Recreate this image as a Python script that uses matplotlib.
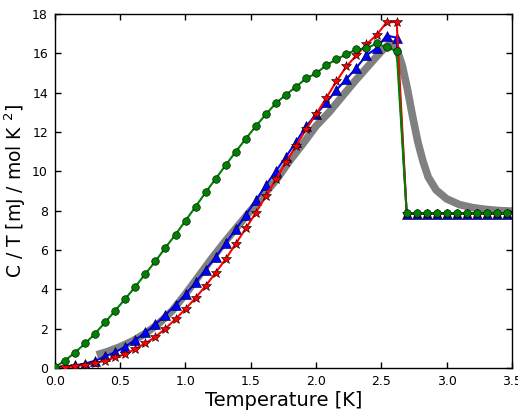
import matplotlib
matplotlib.use("Agg")
import matplotlib.pyplot as plt

# Temperatures of the sampled points [K]
T = [0.000, 0.077, 0.154, 0.231, 0.308, 0.385, 0.462, 0.539, 0.616, 0.693,
     0.770, 0.847, 0.924, 1.001, 1.078, 1.155, 1.232, 1.309, 1.386, 1.463,
     1.540, 1.617, 1.694, 1.771, 1.848, 1.925, 2.002, 2.079, 2.156, 2.233,
     2.310, 2.387, 2.464, 2.541, 2.618, 2.695, 2.772, 2.849, 2.926, 3.003,
     3.080, 3.157, 3.234, 3.311, 3.388, 3.465]

green = [0.03, 0.37, 0.78, 1.24, 1.74, 2.32, 2.91, 3.51, 4.13, 4.78,
         5.42, 6.12, 6.78, 7.49, 8.20, 8.93, 9.62, 10.32, 11.00, 11.66,
         12.30, 12.90, 13.47, 13.90, 14.30, 14.73, 14.98, 15.40, 15.69, 15.95,
         16.20, 16.25, 16.50, 16.30, 16.12, 7.86, 7.86, 7.86, 7.86, 7.86,
         7.86, 7.86, 7.86, 7.86, 7.86, 7.86]

blue = [0.00, 0.05, 0.12, 0.22, 0.36, 0.58, 0.80, 1.08, 1.42, 1.80,
        2.22, 2.69, 3.20, 3.74, 4.35, 5.00, 5.64, 6.35, 7.05, 7.78,
        8.53, 9.30, 10.02, 10.75, 11.50, 12.30, 12.90, 13.50, 14.13, 14.69,
        15.27, 15.91, 16.25, 16.90, 16.80, 7.83, 7.83, 7.83, 7.83, 7.83,
        7.83, 7.83, 7.83, 7.83, 7.83, 7.83]

red = [0.00, 0.03, 0.08, 0.15, 0.25, 0.36, 0.53, 0.70, 0.96, 1.24,
       1.58, 2.00, 2.48, 3.00, 3.56, 4.17, 4.85, 5.54, 6.32, 7.10,
       7.90, 8.74, 9.60, 10.47, 11.30, 12.15, 12.91, 13.73, 14.57, 15.33,
       15.90, 16.46, 16.93, 17.57, 17.60, 7.84, 7.84, 7.84, 7.84, 7.84,
       7.84, 7.84, 7.84, 7.84, 7.84, 7.84]

# Thick grey reference curve
T_gray = [0.32, 0.40, 0.50, 0.60, 0.70, 0.80, 0.90, 1.00, 1.10, 1.20,
          1.30, 1.40, 1.50, 1.60, 1.70, 1.80, 1.90, 2.00, 2.10, 2.20,
          2.30, 2.40, 2.50, 2.55, 2.58, 2.62, 2.66, 2.70, 2.74, 2.78,
          2.82, 2.86, 2.92, 3.00, 3.10, 3.20, 3.30, 3.40, 3.50]
gray = [0.66, 0.82, 1.07, 1.38, 1.78, 2.28, 2.92, 3.75, 4.65, 5.55,
        6.40, 7.20, 8.00, 8.80, 9.60, 10.55, 11.40, 12.30, 13.00, 13.80,
        14.60, 15.35, 16.10, 16.40, 16.50, 16.20, 15.40, 14.20, 12.80, 11.50,
        10.50, 9.70, 9.05, 8.60, 8.30, 8.15, 8.06, 8.00, 7.97]

x_ticks = [0.0, 0.5, 1.0, 1.5, 2.0, 2.5, 3.0, 3.5]
y_ticks = [0, 2, 4, 6, 8, 10, 12, 14, 16, 18]

fig = plt.figure(figsize=(5.18, 4.18), dpi=100)
ax = fig.add_axes([0.106, 0.12, 0.882, 0.8465])

ax.plot(T_gray, gray, color='#808080', lw=5.5, solid_capstyle='butt', zorder=1)
ax.plot(T, blue, color='b', lw=1.5, marker='^', ms=6.5, mec='k', mew=0.4, zorder=2)
ax.plot(T, red, color='r', lw=1.5, marker='*', ms=7.5, mec='k', mew=0.4, zorder=3)
ax.plot(T, green, color='g', lw=1.5, marker='o', ms=5.5, mec='k', mew=0.4, zorder=4)

ax.set_xlim(0, 3.5)
ax.set_ylim(0, 18)
ax.set_xticks(x_ticks)
ax.set_xticklabels([f"{v:.1f}" for v in x_ticks])
ax.set_yticks(y_ticks)
ax.tick_params(direction='in', top=True, right=True, length=4, width=1,
               labelsize=9, pad=5)
for s in ax.spines.values():
    s.set_linewidth(1)

ax.set_xlabel('Temperature [K]', fontsize=14, labelpad=2)
ax.set_ylabel(r'C / T [mJ / mol K $^2$]', fontsize=13.5, labelpad=3)

fig.savefig('out.png', dpi=100, facecolor='white')
